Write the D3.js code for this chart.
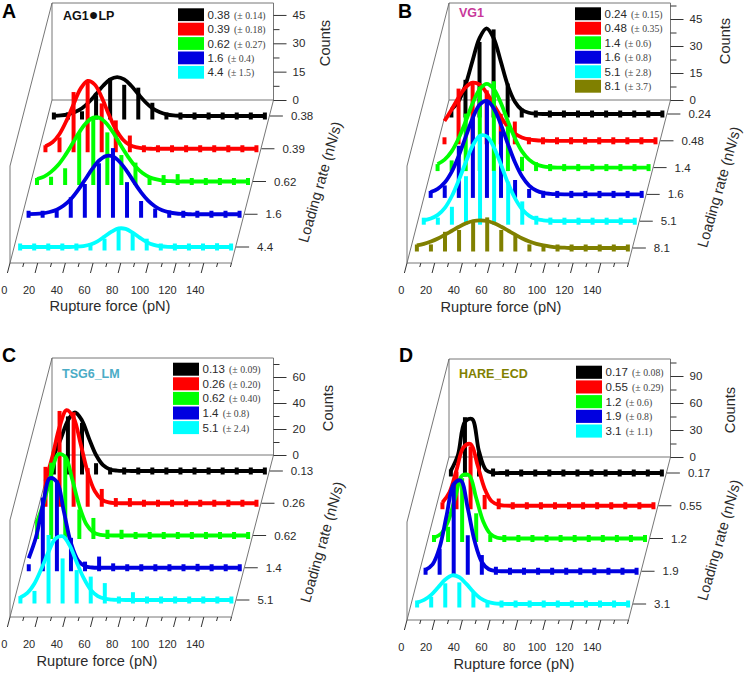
<!DOCTYPE html>
<html><head><meta charset="utf-8">
<script src="https://cdnjs.cloudflare.com/ajax/libs/d3/7.8.5/d3.min.js"></script>
<style>html,body{margin:0;padding:0;background:#fff}svg{display:block}text{font-family:"Liberation Sans",Arial,sans-serif}</style>
</head><body><svg id="c" width="744" height="674"></svg>
<script>
const forceTickLabels=[0,20,40,60,80,100,120,140];
const A_rates=["0.38","0.39","0.62","1.6","4.4"];
const A_errors=["0.14","0.18","0.27","0.4","1.5"];
const A_colors=["#000000","#ff0000","#00ff00","#0000e0","#00ffff"];
const A_bars=[
[1,1,2.5,11,20,16.5,15,7,1.5,1],
[1.5,6,30,36,24,15,7,1,1,1],
[1,2.5,7,26,34,26,14,10,1,3.4,3.9],
[1,1,1.5,9,16,27,35,17,7,3,2],
[1,1,1,1,1,1.5,4.4,10.5,7,4.4,1.5,1,1,1,2]];
const A_fits=[
[.1,.3,.9,2.1,4.1,7.4,11.6,16,19.4,20.6,19.4,16,11.6,7.4,4.1,2.1,.9,.3,.1],
[1.3,3.4,7.8,14.9,23.6,31.8,35.9,34,27.2,18.2,10.3,4.9,1.9,.7,.2],
[1.3,2.6,5.1,8.7,13.8,19.8,26,31,33.8,33.5,30.2,24.9,18.6,12.8,7.9,4.5,2.3,1.1,.4,.2],
[.1,.2,.5,1.2,2.4,4.6,7.9,12.6,18.1,23.7,28.3,30.8,30.5,27.5,22.7,17,11.6,7.2,4.1,2.1,1,.4,.2],
[0,0,0,0,0,0,0,0,.15,.5,1.3,3,5.5,8.1,9.8,9.6,7.6,5,2.6,1.1,.4,.1]];
const B_rates=["0.24","0.48","1.4","1.6","5.1","8.1"];
const B_errors=["0.15","0.35","0.6","0.8","2.8","3.7"];
const B_colors=["#000000","#ff0000","#00ff00","#0000e0","#00ffff","#808000"];
const B_bars=[
[2,19,40,47,17,3,1,1],
[1.5,29,33,28,15,10.7,1,1],
[1,4,30,45,48,23,6,3,2,1],
[1,5,27,43,52,35,8,3,2,1],
[1,2,8,25,47,28,22,11,3,2,1],
[1,2,9,10,15,17,10,7,2,1]];
const B_fits=[
[2.4,7,16.1,29.5,42.2,47.6,42.2,29.5,16.1,7,2.4,.7,.2],
[11,17.3,24,29.7,32.3,31.2,26.6,20,13.4,7.9,4.1,1.9,.8,.3,.1],
[1.9,4.4,9,16.3,25.7,35.9,43.6,46.5,43.6,35.9,25.7,16.3,9,4.4,1.9,.7,.2],
[1.3,3.1,6.6,12.7,21.5,32.2,42.6,50,51.9,47.6,38.6,27.8,17.7,9.9,4.9,2.2,.8,.3,.1],
[.5,1.5,3.5,7.4,14,23,33,42.3,47.5,47,40.8,31.2,20.9,12.5,6.5,3,1.2,.5,.2],
[1.4,2.3,3.6,5.3,7.4,9.6,11.8,13.7,15,15.4,15,13.7,11.8,9.6,7.4,5.3,3.6,2.3,1.4,.8,.4,.2]];
const C_rates=["0.13","0.26","0.62","1.4","5.1"];
const C_errors=["0.09","0.20","0.40","0.8","2.4"];
const C_colors=["#000000","#ff0000","#00ff00","#0000e0","#00ffff"];
const C_bars=[
[15,42,37,6,1,1],
[28,71,70,27,11,4,4,1],
[12,56,61,20,13.5,4.4,4.4,1],
[2,54,67,23,4.7,8.6,3.4,1,1,1,1,1,3],
[3,7,50,32,23,18,13,1,6,1]];
const C_fits=[
[12.3,25,38.9,45,38.9,25,12.3,4.5,1.2,.3,.1],
[17,36.3,58.7,71.6,65.7,45.5,23.8,9.4,2.8,.6,.1],
[10.7,26.4,47.2,62.5,60.6,43,22.7,8.7,2.4,.5,.1],
[7.3,23,48,68.8,66,43,18.9,5.7,1.1,.2],
[2,5.5,12.7,24.2,37,47.3,49,42,29,16.8,7.8,3,1,.3,.1]];
const D_rates=["0.17","0.55","1.2","1.9","3.1"];
const D_errors=["0.08","0.29","0.6","0.8","1.1"];
const D_colors=["#000000","#ff0000","#00ff00","#0000e0","#00ffff"];
const D_bars=[
[3,62,24,5,2,1],
[2,38,66,12,8,2,1],
[1,13,67,28,4,1],
[3,25,98,40,18,5,1],
[1,8,23,24,13,2.6,2,1]];
const D_fits=[
[2.5,20,57,60,24,3.2,.2],
[3.7,15,39.6,65,68.5,45,19,5,.9,.1],
[.9,5.3,19,45,70,70,45,19,5.3,.9,.1],
[1.5,7.7,26.6,62.4,96.7,100.8,70,32.8,10.3,2.2,.3],
[1.6,4.5,10.2,18.6,27.2,31.9,29.7,22.3,13.4,6.4,2.5,.7,.2]];

const svg=d3.select("#c");
const textColor="#2a2a2a";
function panel(o){
  const g=svg.append("g");
  const {fx,fy,by,ty,railFront,railBack,rates,errors,colors,bars,fits,pxPerCount}=o;
  const depthDx=42,width=221.5;
  const bx=fx+depthDx;
  const depth=d3.scalePoint().domain(rates).range([railBack,railFront]);
  const skew=y=>(fy-y)*depthDx/(fy-by);
  const xFloor=d3.scaleLinear().domain([0,160]).range([fx,fx+width]);
  const xRail=d3.scaleLinear().domain([5,155]).range([fx+6,fx+217]);
  const yCount=d3.scaleLinear().domain([0,1]).range([0,-pxPerCount]);
  const frame=d3.path();
  frame.moveTo(bx,by);frame.lineTo(bx,ty);frame.lineTo(bx+width,ty);frame.lineTo(bx+width,by);frame.closePath();
  frame.moveTo(bx+width,by);frame.lineTo(fx+width,fy);frame.lineTo(fx,fy);frame.lineTo(bx,by);
  frame.moveTo(bx,ty);frame.lineTo(fx,ty+(fy-by));frame.lineTo(fx,fy);
  g.append("path").attr("d",frame.toString()).attr("fill","none").attr("stroke","#666").attr("stroke-width",.9);
  const yAxisScale=d3.scaleLinear().domain([0,1]).range([by,by-pxPerCount]);
  const ax=g.append("g").attr("transform",`translate(${bx+width},0)`);
  ax.call(d3.axisRight(yAxisScale).tickValues(o.minor).tickSize(6).tickFormat(""));
  ax.call(s=>s.select(".domain").remove());
  const ax2=g.append("g").attr("transform",`translate(${bx+width},0)`);
  ax2.call(d3.axisRight(yAxisScale).tickValues(o.major).tickSize(13).tickPadding(6).tickFormat(d3.format("d")));
  ax2.call(s=>s.select(".domain").remove());
  g.selectAll("g.tick line").attr("stroke","#333").attr("stroke-width",1);
  g.selectAll("g.tick text").attr("font-size",11.5).attr("fill",textColor).attr("font-family","Liberation Sans");
  const ft=g.append("g");
  ft.selectAll("line").data(d3.range(0,161,10)).join("line")
    .attr("x1",d=>xFloor(d)).attr("y1",fy)
    .attr("x2",d=>xFloor(d)-(d%20===0&&d<160?2.6:1.1)).attr("y2",d=>fy+(d%20===0&&d<160?10:4))
    .attr("stroke","#333").attr("stroke-width",1);
  ft.selectAll("text").data(forceTickLabels).join("text")
    .attr("x",d=>xFloor(d)-2.6-(d===0?3:6)).attr("y",fy+27).attr("dy","0.35em")
    .attr("text-anchor","middle").attr("font-size",11).attr("fill",textColor).text(d=>d);
  rates.forEach((r,i)=>{
    const y0=depth(r);
    const s=g.append("g").attr("transform",`translate(${skew(y0)},${y0})`);
    const col=colors[i];
    const barVals=d3.range(16).map(k=>bars[i][k]||0);
    const fitVals=d3.range(31).map(k=>fits[i][k]||0);
    s.selectAll("line.b").data(barVals).join("line").attr("class","b")
      .attr("x1",(d,k)=>xRail(5+10*k)).attr("x2",(d,k)=>xRail(5+10*k))
      .attr("y1",3.5).attr("y2",d=>Math.min(yCount(d),-3.5))
      .attr("stroke",col).attr("stroke-width",4);
    const line=d3.line().x((d,k)=>xRail(5+5*k)).y(d=>yCount(d)).curve(d3.curveCatmullRom);
    s.append("path").attr("d",line(fitVals)).attr("fill","none").attr("stroke",col).attr("stroke-width",3.8);
    const end=fx+217+skew(y0);
    g.append("line").attr("x1",end+5).attr("x2",end+18).attr("y1",y0).attr("y2",y0).attr("stroke","#333").attr("stroke-width",1);
    g.append("text").attr("x",end+26).attr("y",y0).attr("dy","0.35em").attr("font-size",11.5).attr("fill",textColor).text(r);
    const ly=o.legY+i*o.legStep;
    g.append("rect").attr("x",o.legX).attr("y",ly).attr("width",26).attr("height",o.legStep-1.6).attr("fill",col);
    const t=g.append("text").attr("x",o.legX+29.5).attr("y",ly+(o.legStep-1.6)/2).attr("dy","0.35em").attr("font-size",11.5).attr("fill",textColor).text(r+" ");
    t.append("tspan").attr("font-family","Liberation Serif").attr("font-size",9.8).attr("fill","#444").attr("dx",1).text("(± "+errors[i]+")");
  });
  g.append("text").attr("x",o.letter[0]).attr("y",o.letter[1]).attr("font-size",19.5).attr("font-weight","bold").attr("fill","#000").text(o.name);
  const tt=g.append("text").attr("x",o.title[0]).attr("y",o.title[1]).attr("dy","0.35em").attr("font-size",12.5).attr("font-weight","bold").attr("fill",o.titleColor);
  o.titleParts.forEach(p=>{ tt.append("tspan").attr("font-size",p==="●"?16:12.5).text(p); });
  g.append("text").attr("x",o.xt[0]).attr("y",o.xt[1]).attr("text-anchor","middle").attr("font-size",14.6).attr("fill",textColor).text("Rupture force (pN)");
  g.append("text").attr("transform",`translate(${o.ct[0]},${o.ct[1]}) rotate(-90)`).attr("text-anchor","middle").attr("dy","0.35em").attr("font-size",14.6).attr("fill",textColor).text("Counts");
  g.append("text").attr("transform",`translate(${o.lr[0]},${o.lr[1]}) rotate(-74)`).attr("text-anchor","middle").attr("dy","0.35em").attr("font-size",14.6).attr("fill",textColor).text("Loading rate (nN/s)");
}
panel({name:"A",letter:[2,18],fx:10,fy:263,by:100,ty:3,railFront:247,railBack:116,rates:A_rates,errors:A_errors,colors:A_colors,bars:A_bars,fits:A_fits,pxPerCount:1.89,major:[0,15,30,45],minor:[7.5,22.5,37.5],legX:178,legY:8.3,legStep:14.4,title:[63,16],titleColor:"#111",titleParts:["AG1","●","LP"],xt:[110,311],ct:[325,43],lr:[320,182]});
panel({name:"B",letter:[398,18],fx:407,fy:263,by:100,ty:3,railFront:248,railBack:114,rates:B_rates,errors:B_errors,colors:B_colors,bars:B_bars,fits:B_fits,pxPerCount:1.8,major:[0,15,30,45],minor:[7.5,22.5,37.5,52.5],legX:575,legY:7.3,legStep:14.5,title:[459,13],titleColor:"#c8389a",titleParts:["VG1"],xt:[501,312],ct:[725,41],lr:[719,187]});
panel({name:"C",letter:[2,362],fx:10,fy:617,by:455,ty:358,railFront:600,railBack:471,rates:C_rates,errors:C_errors,colors:C_colors,bars:C_bars,fits:C_fits,pxPerCount:1.3,major:[0,20,40,60],minor:[10,30,50,70],legX:173,legY:362.7,legStep:14.6,title:[62,374],titleColor:"#4bacc6",titleParts:["TSG6_LM"],xt:[97,666],ct:[328,408],lr:[322,542]});
panel({name:"D",letter:[399,362],fx:407,fy:620,by:457,ty:359,railFront:604,railBack:473,rates:D_rates,errors:D_errors,colors:D_colors,bars:D_bars,fits:D_fits,pxPerCount:.9,major:[0,30,60,90],minor:[15,45,75,105],legX:576,legY:365.7,legStep:14.7,title:[459,374],titleColor:"#808000",titleParts:["HARE_ECD"],xt:[514,669],ct:[730,410],lr:[719,540]});
</script></body></html>
